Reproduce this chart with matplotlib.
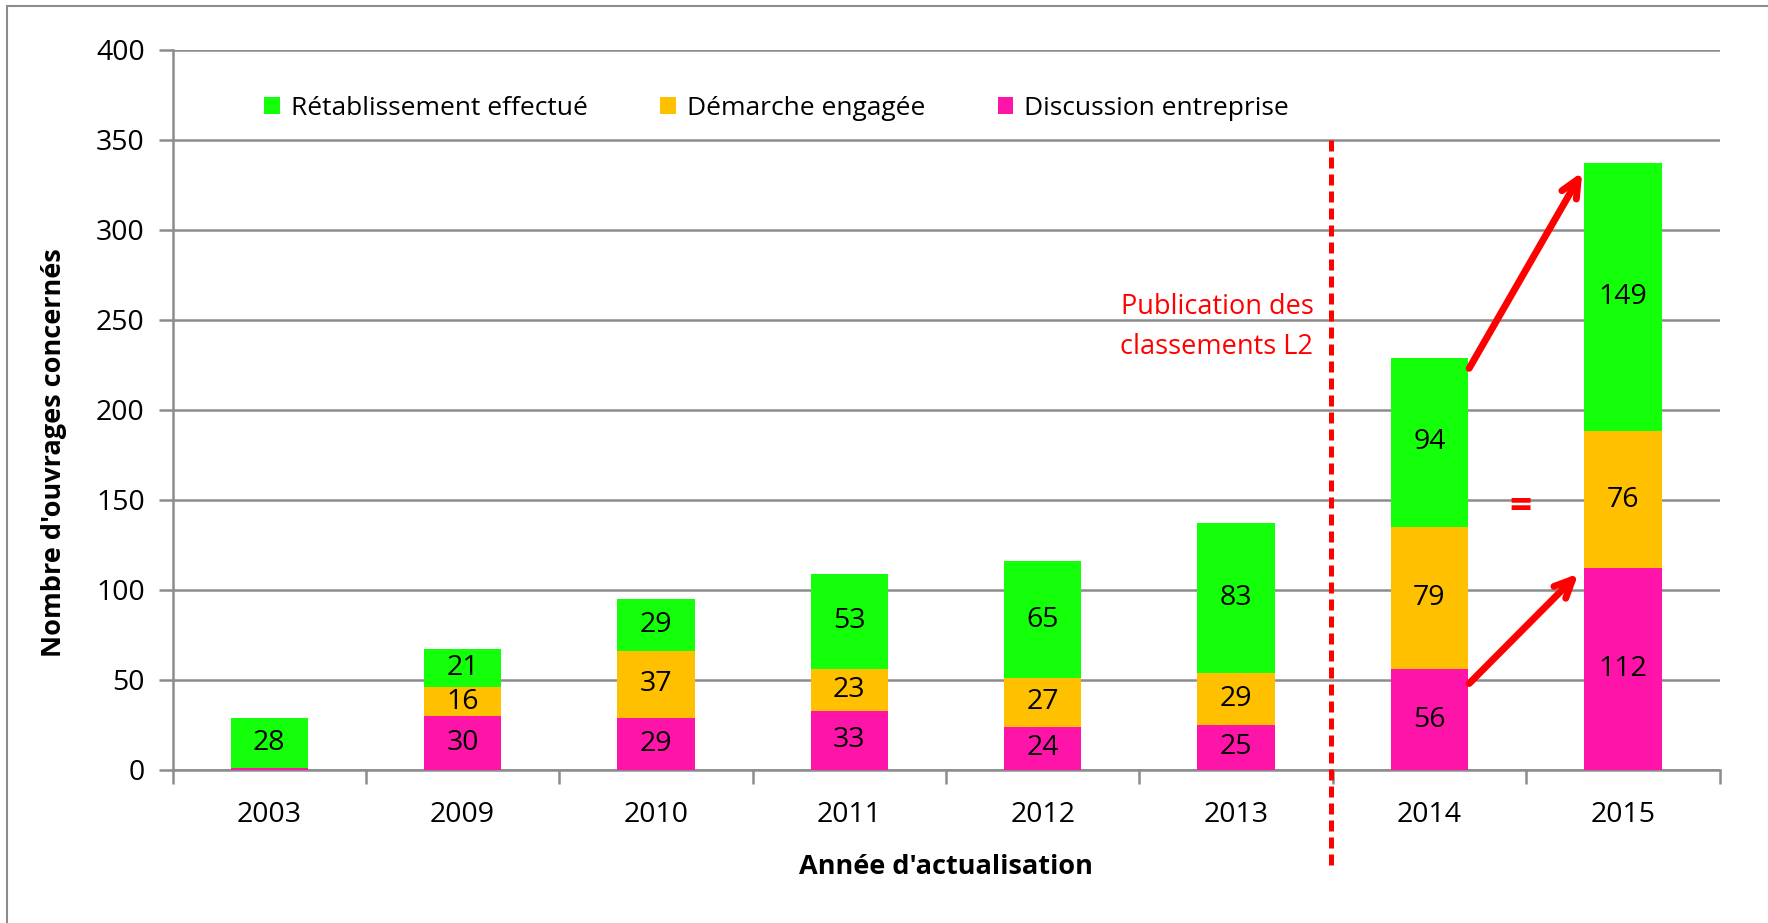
import matplotlib.pyplot as plt
import numpy as np
from matplotlib.patches import Rectangle

plt.rcParams["font.family"] = ["Open Sans", "DejaVu Sans"]

years = ["2003", "2009", "2010", "2011", "2012", "2013", "2014", "2015"]
discussion = [1, 30, 29, 33, 24, 25, 56, 112]
demarche = [0, 16, 37, 23, 27, 29, 79, 76]
retablissement = [28, 21, 29, 53, 65, 83, 94, 149]
series_names = ["Rétablissement effectué", "Démarche engagée", "Discussion entreprise"]

GREEN = "#14FF0A"
ORANGE = "#FFC000"
PINK = "#FF14AA"
GRID = "#8c8c8c"


def main() -> None:
    fig = plt.figure(figsize=(17.68, 9.23), dpi=100)
    ax = fig.add_axes([0.0976, 0.1658, 0.875, 0.7805])

    x = np.arange(len(years))
    w = 0.4
    pink = np.array(discussion)
    orange = np.array(demarche)
    green = np.array(retablissement)

    ax.bar(x, pink, w, color=PINK, label=series_names[2], zorder=3)
    ax.bar(x, orange, w, bottom=pink, color=ORANGE, label=series_names[1], zorder=3)
    ax.bar(x, green, w, bottom=pink + orange, color=GREEN, label=series_names[0], zorder=3)

    fs_num = 20.5
    fs = 19.5
    for i in range(len(years)):
        if pink[i] > 5:
            ax.text(x[i], pink[i] / 2, str(pink[i]), ha="center", va="center",
                    fontsize=fs_num, zorder=4)
        if orange[i] > 0:
            ax.text(x[i], pink[i] + orange[i] / 2, str(orange[i]), ha="center", va="center",
                    fontsize=fs_num, zorder=4)
        ax.text(x[i], pink[i] + orange[i] + green[i] / 2, str(green[i]), ha="center",
                va="center", fontsize=fs_num, zorder=4)

    ax.set_xlim(-0.5, len(years) - 0.5)
    ax.set_ylim(0, 400)
    ax.set_yticks(np.arange(0, 401, 50))
    ax.yaxis.grid(True, color=GRID, linewidth=1.8, zorder=0)
    ax.set_axisbelow(True)

    ax.set_xticks(np.arange(-0.5, len(years)), labels=[])
    ax.set_xticks(x, labels=years, minor=True)
    ax.tick_params(axis="x", which="major", length=10, width=1.8, color=GRID)
    ax.tick_params(axis="x", which="minor", length=0, pad=22, labelsize=fs_num)
    ax.tick_params(axis="y", length=10, width=1.8, color=GRID, labelsize=fs_num, pad=10)

    for s in ["top", "right"]:
        ax.spines[s].set_visible(False)
    for s in ["left", "bottom"]:
        ax.spines[s].set_color(GRID)
        ax.spines[s].set_linewidth(1.8)

    ax.set_xlabel("Année d'actualisation", fontsize=fs, fontweight="bold", labelpad=18)
    ax.set_ylabel("Nombre d'ouvrages concernés", fontsize=fs, fontweight="bold")
    ax.yaxis.set_label_coords(-0.068, 0.44)

    handles, labels = ax.get_legend_handles_labels()
    ax.legend(handles[::-1], labels[::-1], loc="center left", bbox_to_anchor=(0.044, 0.918),
              ncol=3, frameon=False, fontsize=19, handlelength=0.6, handleheight=0.6,
              handletextpad=0.4, columnspacing=2.75)

    # publication marker
    ax.plot([5.49, 5.49], [350, -56], color="red", linestyle=(0, (2.2, 1.2)), linewidth=3.6,
            clip_on=False, zorder=5)
    ax.text(5.40, 246, "Publication des\nclassements L2", color="red", ha="right",
            va="center", fontsize=fs, linespacing=1.6)

    arrow = dict(arrowstyle="->,head_length=1.3,head_width=0.6", color="red", lw=5,
                 shrinkA=0, shrinkB=0, capstyle="round", joinstyle="round")
    ax.annotate("", xy=(6.79, 332), xytext=(6.205, 223), arrowprops=arrow, zorder=6)
    ax.annotate("", xy=(6.77, 109), xytext=(6.205, 48), arrowprops=arrow, zorder=6)
    ax.text(6.468, 146, "=", color="red", ha="center", va="center", fontsize=28,
            fontweight="bold")

    fig.add_artist(Rectangle((0.004, -0.1), 1.2, 1.094, transform=fig.transFigure,
                             fill=False, edgecolor=GRID, linewidth=1.5))

    fig.savefig("out.png", dpi=100)


if __name__ == "__main__":
    main()
